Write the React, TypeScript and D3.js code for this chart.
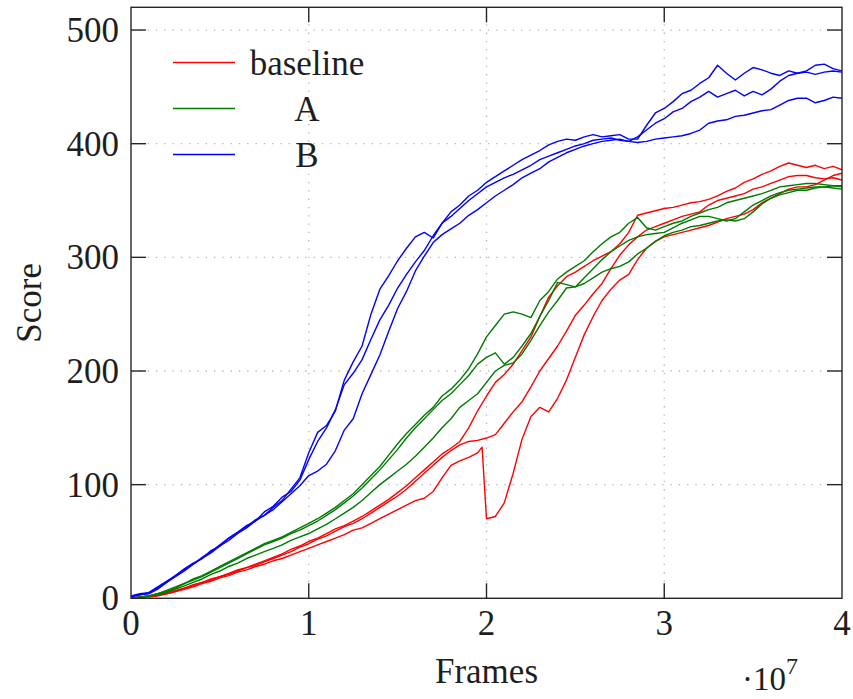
import React, { useEffect, useRef } from "react";
import * as d3 from "d3";

// frames are in millions, the x axis shows them in units of 1e7
const frames = d3.range(0, 40.5, 0.5);
// the dipping baseline run has one extra sample where it collapses
const dipFrames = [...frames.slice(0, 40), 19.75, ...frames.slice(40)];

const baseline1 = [0,1,2,3,5,7,9,12,14,17, 19,22,25,27,30,33,36,39,43,46, 50,53,57,61,64,68,72,77,82,87, 93,99,106,113,120,127,132,138,150,165, 178,190,197,206,218,230,248,265,275,283, 287,292,297,301,305,312,322,337,339,341, 343,344,346,348,349,351,354,358,361,366, 369,373,376,380,383,381,379,381,378,380, 377];
const baseline2 = [0,1,2,3,4,6,9,11,14,16, 19,21,24,27,29,32,35,38,41,45, 48,52,55,59,63,66,70,75,80,85, 90,96,103,110,117,124,130,135,138,139, 141,144,154,164,173,186,200,211,222,235, 249,258,268,277,290,302,311,318,324,327, 330,333,336,338,340,346,350,352,354,356, 360,362,365,368,371,372,372,370,369,370, 368];
const baseline3 = [0,1,1,2,4,6,8,10,13,15, 18,20,23,25,28,30,33,35,38,41, 44,47,50,53,56,60,62,66,70,74, 78,82,86,88,94,106,117,121,124,128, 133, 70,72,84,110,140,160,168,164,176,192, 212,232,248,262,272,280,285,298,308,314, 318,320,322,324,326,328,331,334,336,338, 342,348,352,356,360,362,362,364,368,372, 374];

const runA1 = [0,1,2,4,7,10,13,17,20,24, 28,32,36,40,44,48,51,54,58,62, 66,70,75,80,86,92,100,108,116,126, 136,145,153,161,168,178,184,192,202,215, 230,240,250,252,250,247,262,270,281,287, 292,297,305,312,318,322,330,335,326,324, 327,330,332,336,339,342,344,348,350,352, 354,356,359,362,363,364,365,365,364,363, 362];
const runA2 = [0,1,2,4,6,9,13,16,19,23, 27,31,35,39,43,47,50,53,57,60, 64,68,73,78,84,90,97,105,113,122, 131,141,150,158,166,174,180,188,196,206, 212,216,206,212,222,233,248,262,278,276, 274,282,290,298,305,310,315,318,320,321, 322,326,330,333,336,336,334,332,334,340, 346,350,354,357,359,360,361,362,362,363, 363];
const runA3 = [0,1,2,3,5,8,11,14,17,21, 24,28,31,35,38,41,44,47,51,54, 57,61,65,70,75,80,86,93,100,106, 112,118,125,133,141,150,158,168,174,180, 190,200,205,207,215,227,240,252,262,273, 274,277,282,287,290,292,296,303,308,314, 319,322,324,327,328,330,332,333,332,334, 340,347,352,355,357,359,359,361,362,361, 360];

const runB1 = [2,3,4,8,14,20,25,30,36,41, 47,53,58,63,69,73,80,86,96,106, 128,146,152,165,192,208,222,250,272,284, 297,308,318,322,317,330,340,346,354,359, 366,371,376,381,386,390,394,399,402,404, 403,406,408,406,407,408,404,404,416,427, 431,437,444,447,453,458,469,462,456,462, 467,465,462,460,464,462,464,469,470,466, 464];
const runB2 = [1,3,5,10,15,20,26,31,35,42, 46,53,58,64,68,76,81,89,94,104, 122,138,150,166,188,198,210,228,245,258, 273,285,296,306,319,330,336,343,350,356, 362,366,370,373,377,381,386,389,392,395, 398,400,403,404,405,403,402,406,412,418, 422,428,431,437,441,446,441,444,447,442, 446,443,448,455,460,462,463,461,463,464, 463];
const runB3 = [2,4,5,9,14,19,24,30,35,40, 46,51,57,62,68,73,78,85,92,99, 108,112,118,130,148,158,180,197,214,235, 255,270,288,301,313,320,325,330,337,342, 348,354,359,364,370,374,378,384,388,392, 395,398,400,402,403,404,402,401,402,404, 405,406,407,409,412,418,420,421,424,425, 427,429,430,434,438,440,440,436,438,441, 440];

const legendLabels = ["baseline", "A", "B"];
const colors = ["#ff0000", "#007a00", "#0000ff"];
const xTicks = [0, 1, 2, 3, 4];
const yTicks = [0, 100, 200, 300, 400, 500];

const runs = [
  { frames: frames, values: baseline1, color: colors[0] },
  { frames: frames, values: baseline2, color: colors[0] },
  { frames: dipFrames, values: baseline3, color: colors[0] },
  { frames: frames, values: runA1, color: colors[1] },
  { frames: frames, values: runA2, color: colors[1] },
  { frames: frames, values: runA3, color: colors[1] },
  { frames: frames, values: runB1, color: colors[2] },
  { frames: frames, values: runB2, color: colors[2] },
  { frames: frames, values: runB3, color: colors[2] },
];

const FONT = "'Liberation Serif', 'Times New Roman', serif";

const App = () => {
  const ref = useRef<SVGSVGElement>(null);

  useEffect(() => {
    const svg = d3.select(ref.current);
    svg.selectAll("*").remove();

    const left = 131, right = 842, top = 7.3, bottom = 598.3;
    const x = d3.scaleLinear().domain([0, 4]).range([left, right]);
    const y = d3.scaleLinear().domain([0, 520]).range([bottom, top]);
    const tickLen = 15;

    svg.append("defs").append("clipPath").attr("id", "plot-clip")
      .append("rect")
      .attr("x", left).attr("y", top)
      .attr("width", right - left).attr("height", bottom - top);

    // dotted grid
    const grid = svg.append("g")
      .style("stroke", "#b4b4b4")
      .style("stroke-width", 1.3)
      .style("stroke-dasharray", "1.3,7");
    xTicks.slice(1, -1).forEach((t) => {
      grid.append("line")
        .attr("x1", x(t)).attr("x2", x(t))
        .attr("y1", bottom).attr("y2", top);
    });
    yTicks.slice(1).forEach((t) => {
      grid.append("line")
        .attr("x1", left).attr("x2", right)
        .attr("y1", y(t)).attr("y2", y(t));
    });

    // runs
    const line = d3.line<[number, number]>()
      .x((d) => x(d[0] / 10))
      .y((d) => y(d[1]));

    const plot = svg.append("g").attr("clip-path", "url(#plot-clip)");
    runs.forEach((r) => {
      const pts: [number, number][] = r.values.map((v, i) => [r.frames[i], v]);
      plot.append("path")
        .attr("d", line(pts))
        .style("fill", "none")
        .style("stroke", r.color)
        .style("stroke-width", 1.4)
        .style("stroke-linejoin", "round");
    });

    // frame and inside ticks
    const axis = svg.append("g").style("stroke", "#262626").style("stroke-width", 1.4);
    axis.append("rect")
      .attr("x", left).attr("y", top)
      .attr("width", right - left).attr("height", bottom - top)
      .style("fill", "none");
    xTicks.slice(1, -1).forEach((t) => {
      axis.append("line").attr("x1", x(t)).attr("x2", x(t))
        .attr("y1", bottom).attr("y2", bottom - tickLen);
      axis.append("line").attr("x1", x(t)).attr("x2", x(t))
        .attr("y1", top).attr("y2", top + tickLen);
    });
    yTicks.slice(1).forEach((t) => {
      axis.append("line").attr("x1", left).attr("x2", left + tickLen)
        .attr("y1", y(t)).attr("y2", y(t));
      axis.append("line").attr("x1", right).attr("x2", right - tickLen)
        .attr("y1", y(t)).attr("y2", y(t));
    });

    // tick labels
    const labels = svg.append("g")
      .style("font-family", FONT)
      .style("font-size", "35px")
      .style("fill", "#1e1e1e");
    xTicks.forEach((t) => {
      labels.append("text")
        .attr("x", x(t)).attr("y", 635)
        .attr("text-anchor", "middle")
        .text(t);
    });
    yTicks.forEach((t) => {
      labels.append("text")
        .attr("x", 119).attr("y", y(t) + 12)
        .attr("text-anchor", "end")
        .text(t);
    });

    labels.append("text")
      .attr("x", (left + right) / 2).attr("y", 683)
      .attr("text-anchor", "middle")
      .text("Frames");

    labels.append("text")
      .attr("transform", `translate(41, ${(top + bottom) / 2}) rotate(-90)`)
      .attr("text-anchor", "middle")
      .text("Score");

    const mult = labels.append("text")
      .attr("x", 742).attr("y", 690)
      .style("font-size", "33px");
    mult.append("tspan").text("·10");
    mult.append("tspan")
      .attr("dy", -16)
      .style("font-size", "24px")
      .text("7");

    // legend
    const legend = svg.append("g");
    legendLabels.forEach((name, i) => {
      const ly = 62.5 + i * 46;
      legend.append("line")
        .attr("x1", 173).attr("x2", 235)
        .attr("y1", ly).attr("y2", ly)
        .style("stroke", colors[i])
        .style("stroke-width", 1.4);
      legend.append("text")
        .attr("x", 307).attr("y", ly + 12)
        .attr("text-anchor", "middle")
        .style("font-family", FONT)
        .style("font-size", "35px")
        .style("fill", "#1e1e1e")
        .text(name);
    });
  }, []);

  return (
    <svg
      ref={ref}
      width={853}
      height={699}
      style={{ position: "absolute", left: 0, top: 0, background: "#fff" }}
    />
  );
};

export default App;
